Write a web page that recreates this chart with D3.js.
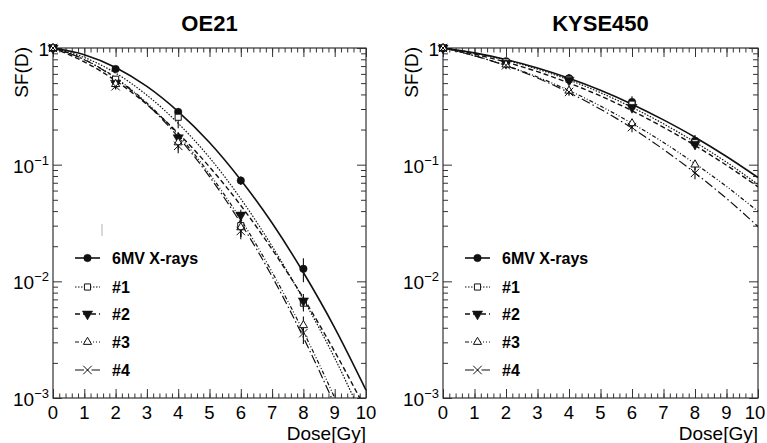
<!DOCTYPE html>
<html>
<head>
<meta charset="utf-8">
<script src="https://cdn.jsdelivr.net/npm/d3@7"></script>
<style>
  body { margin: 0; background: #fff; }
  svg { display: block; font-family: "Liberation Sans", Arial, sans-serif; }
</style>
</head>
<body>
<div class="svg-container"></div>
<script>
// ---- data ----
const panelTitles = ['OE21', 'KYSE450'];
const seriesLabels = ['6MV X-rays', '#1', '#2', '#3', '#4'];
const pointDoses = [0, 2, 4, 6, 8];
const fitDoses = [0, 1, 2, 3, 4, 5, 6, 7, 8, 9, 10];
const xTickLabels = ['0', '1', '2', '3', '4', '5', '6', '7', '8', '9', '10'];

// OE21 measured survival (one row per series)
const oe21Points = [
  [1, 0.66, 0.283, 0.073, 0.0128],
  [1, 0.54, 0.255, 0.030, 0.0065],
  [1, 0.50, 0.170, 0.037, 0.0068],
  [1, 0.49, 0.155, 0.029, 0.0042],
  [1, 0.47, 0.145, 0.027, 0.0036]
];
const oe21Errors = [
  [0, 0.02, 0.02, 0.006, 0.003],
  [0, 0.03, 0.05, 0.006, 0.001],
  [0, 0.03, 0.02, 0.004, 0.001],
  [0, 0.03, 0.02, 0.005, 0.0008],
  [0, 0.03, 0.02, 0.004, 0.0007]
];
// OE21 fitted curves at fitDoses
const oe21Fits = [
  [1, 0.876, 0.681, 0.468, 0.285, 0.155, 0.074, 0.0316, 0.0119, 0.0040, 0.00117],
  [1, 0.83, 0.61, 0.394, 0.226, 0.115, 0.051, 0.020, 0.0070, 0.0022, 0.00059],
  [1, 0.761, 0.525, 0.328, 0.186, 0.0957, 0.0447, 0.0188, 0.0072, 0.0025, 0.00079],
  [1, 0.798, 0.556, 0.338, 0.18, 0.0834, 0.0339, 0.012, 0.0037, 0.001, 0.00023],
  [1, 0.794, 0.55, 0.331, 0.173, 0.079, 0.0315, 0.011, 0.0033, 0.00087, 0.0002]
];

// KYSE450 measured survival
const kysePoints = [
  [1, 0.77, 0.55, 0.345, 0.160],
  [1, 0.76, 0.54, 0.330, 0.155],
  [1, 0.74, 0.53, 0.310, 0.150],
  [1, 0.72, 0.43, 0.226, 0.100],
  [1, 0.71, 0.42, 0.210, 0.085]
];
const kyseErrors = [
  [0, 0.05, 0.05, 0.04, 0.02],
  [0, 0.04, 0.03, 0.03, 0.015],
  [0, 0.04, 0.03, 0.03, 0.015],
  [0, 0.04, 0.03, 0.02, 0.01],
  [0, 0.04, 0.03, 0.02, 0.01]
];
const kyseFits = [
  [1, 0.908, 0.796, 0.673, 0.55, 0.434, 0.330, 0.242, 0.172, 0.1175, 0.0776],
  [1, 0.904, 0.787, 0.659, 0.532, 0.414, 0.310, 0.224, 0.156, 0.105, 0.0676],
  [1, 0.885, 0.757, 0.627, 0.501, 0.388, 0.290, 0.209, 0.146, 0.0989, 0.0646],
  [1, 0.857, 0.708, 0.564, 0.432, 0.318, 0.226, 0.155, 0.102, 0.065, 0.0398],
  [1, 0.858, 0.705, 0.553, 0.415, 0.299, 0.206, 0.135, 0.085, 0.0513, 0.0295]
];

// ---- styles ----
const lineDash = [null, '1.5,1.5', '5,3', '4,2,1,2,1,2', '9,3,1.5,3'];
const lineWidth = [1.6, 1.2, 1.4, 1.2, 1.2];
const markers = [
  { type: d3.symbolCircle, size: 44, fill: true, rotate: 0 },
  { type: d3.symbolSquare2, size: 48, fill: false, rotate: 0 },
  { type: d3.symbolTriangle, size: 46, fill: true, rotate: 180 },
  { type: d3.symbolTriangle2, size: 48, fill: false, rotate: 0 },
  { type: d3.symbolTimes, size: 48, fill: false, rotate: 0 }
];
const ink = '#111';

const width = 767;
const height = 443;

const svg = d3.select('.svg-container')
  .append('svg')
  .attr('width', width)
  .attr('height', height);

function drawPanel(idx, left, right, points, errors, fits, legendX) {
  const top = 48;
  const bottom = 398;

  const x = d3.scaleLinear().domain([0, 10]).range([left, right]);
  const y = d3.scaleLog().domain([1e-3, 1]).range([bottom, top]);

  const g = svg.append('g');

  // clip for curves
  const clipId = 'clip' + idx;
  g.append('clipPath').attr('id', clipId)
    .append('rect')
    .attr('x', left).attr('y', top)
    .attr('width', right - left).attr('height', bottom - top);

  // title
  g.append('text')
    .attr('x', (left + right) / 2)
    .attr('y', 31)
    .attr('text-anchor', 'middle')
    .style('font-weight', 'bold')
    .style('font-size', '22px')
    .text(panelTitles[idx]);

  // ticks via axes (pointing inwards, no labels)
  const minorX = d3.range(0, 10.001, 0.2).map(v => +v.toFixed(1));
  const majorX = d3.range(0, 11);
  const allY = y.ticks();
  const majorY = allY.filter(v => Math.abs(Math.log10(v) - Math.round(Math.log10(v))) < 1e-6);
  const minorY = allY.filter(v => majorY.indexOf(v) < 0);

  function tickAxis(axis, vals, size, transform) {
    const a = g.append('g')
      .attr('transform', transform)
      .call(axis.tickValues(vals).tickSize(size).tickFormat(''));
    a.select('.domain').remove();
    a.selectAll('line').attr('stroke', '#333').attr('stroke-width', 1);
  }
  tickAxis(d3.axisBottom(x), majorX, -9, `translate(0,${bottom})`);
  tickAxis(d3.axisBottom(x), minorX, -4.5, `translate(0,${bottom})`);
  tickAxis(d3.axisTop(x), majorX, -9, `translate(0,${top})`);
  tickAxis(d3.axisTop(x), minorX, -4.5, `translate(0,${top})`);
  tickAxis(d3.axisLeft(y), majorY, -9, `translate(${left},0)`);
  tickAxis(d3.axisLeft(y), minorY, -5, `translate(${left},0)`);
  tickAxis(d3.axisRight(y), majorY, -9, `translate(${right},0)`);
  tickAxis(d3.axisRight(y), minorY, -5, `translate(${right},0)`);

  // frame
  g.append('rect')
    .attr('x', left).attr('y', top)
    .attr('width', right - left).attr('height', bottom - top)
    .attr('fill', 'none')
    .attr('stroke', '#333')
    .attr('stroke-width', 1.2);

  // x tick labels (last one kept inside the picture)
  g.selectAll('.xlab')
    .data(majorX)
    .enter()
    .append('text')
    .attr('x', d => Math.min(x(d), width - 12))
    .attr('y', 419)
    .attr('text-anchor', 'middle')
    .style('font-size', '18.5px')
    .text((d, i) => xTickLabels[i]);

  // y tick labels with superscript exponents
  majorY.forEach(v => {
    const e = Math.round(Math.log10(v));
    const t = g.append('text')
      .attr('x', left - 4)
      .attr('y', y(v) + 8)
      .attr('text-anchor', 'end')
      .style('font-size', '19px');
    if (e === 0) {
      t.text('1');
    } else {
      t.append('tspan').text('10');
      t.append('tspan')
        .attr('dy', -8)
        .style('font-size', '13px')
        .text('\u2212' + Math.abs(e));
    }
  });

  // axis titles
  g.append('text')
    .attr('transform', `translate(${left - 25},${top - 1}) rotate(-90)`)
    .attr('text-anchor', 'end')
    .style('font-size', '19px')
    .text('SF(D)');

  g.append('text')
    .attr('x', right)
    .attr('y', 440)
    .attr('text-anchor', 'end')
    .style('font-size', '19px')
    .text('Dose[Gy]');

  // fitted curves
  const line = d3.line()
    .x(d => x(d[0]))
    .y(d => y(d[1]))
    .curve(d3.curveMonotoneX);

  const curves = g.append('g').attr('clip-path', `url(#${clipId})`);
  fits.forEach((row, s) => {
    curves.append('path')
      .datum(fitDoses.map((dv, i) => [dv, row[i]]))
      .attr('d', line)
      .attr('fill', 'none')
      .attr('stroke', ink)
      .attr('stroke-width', lineWidth[s])
      .attr('stroke-dasharray', lineDash[s]);
  });

  // error bars
  points.forEach((row, s) => {
    row.forEach((v, i) => {
      const err = errors[s][i];
      if (!err) return;
      g.append('line')
        .attr('x1', x(pointDoses[i])).attr('x2', x(pointDoses[i]))
        .attr('y1', y(v + err)).attr('y2', y(Math.max(v - err, 1e-3)))
        .attr('stroke', ink)
        .attr('stroke-width', 1.1);
    });
  });

  // markers
  points.forEach((row, s) => {
    const m = markers[s];
    const sym = d3.symbol().type(m.type).size(m.size);
    g.selectAll('.m' + s)
      .data(row)
      .enter()
      .append('path')
      .attr('d', sym)
      .attr('transform', (d, i) => `translate(${x(pointDoses[i])},${y(d)}) rotate(${m.rotate})`)
      .attr('fill', m.fill ? ink : 'white')
      .attr('stroke', ink)
      .attr('stroke-width', m.fill ? 0.5 : 1);
  });

  // legend
  const legendY = [258, 287, 314, 342, 370];
  const legend = g.append('g');
  seriesLabels.forEach((name, s) => {
    const ly = legendY[s];
    legend.append('line')
      .attr('x1', legendX).attr('x2', legendX + 25)
      .attr('y1', ly).attr('y2', ly)
      .attr('stroke', ink)
      .attr('stroke-width', lineWidth[s])
      .attr('stroke-dasharray', lineDash[s]);
    const m = markers[s];
    legend.append('path')
      .attr('d', d3.symbol().type(m.type).size(m.size))
      .attr('transform', `translate(${legendX + 12.5},${ly}) rotate(${m.rotate})`)
      .attr('fill', m.fill ? ink : 'white')
      .attr('stroke', ink)
      .attr('stroke-width', m.fill ? 0.5 : 1);
    legend.append('text')
      .attr('x', legendX + 37)
      .attr('y', ly + 6)
      .style('font-weight', 'bold')
      .style('font-size', '16px')
      .text(name);
  });

  // faint scan mark seen in the first panel
  if (idx === 0) {
    g.append('line')
      .attr('x1', 102).attr('x2', 102)
      .attr('y1', 224).attr('y2', 236)
      .attr('stroke', '#ccc')
      .attr('stroke-width', 1.5);
  }
}

drawPanel(0, 53, 366, oe21Points, oe21Errors, oe21Fits, 75);
drawPanel(1, 443, 758, kysePoints, kyseErrors, kyseFits, 465);
</script>
</body>
</html>
